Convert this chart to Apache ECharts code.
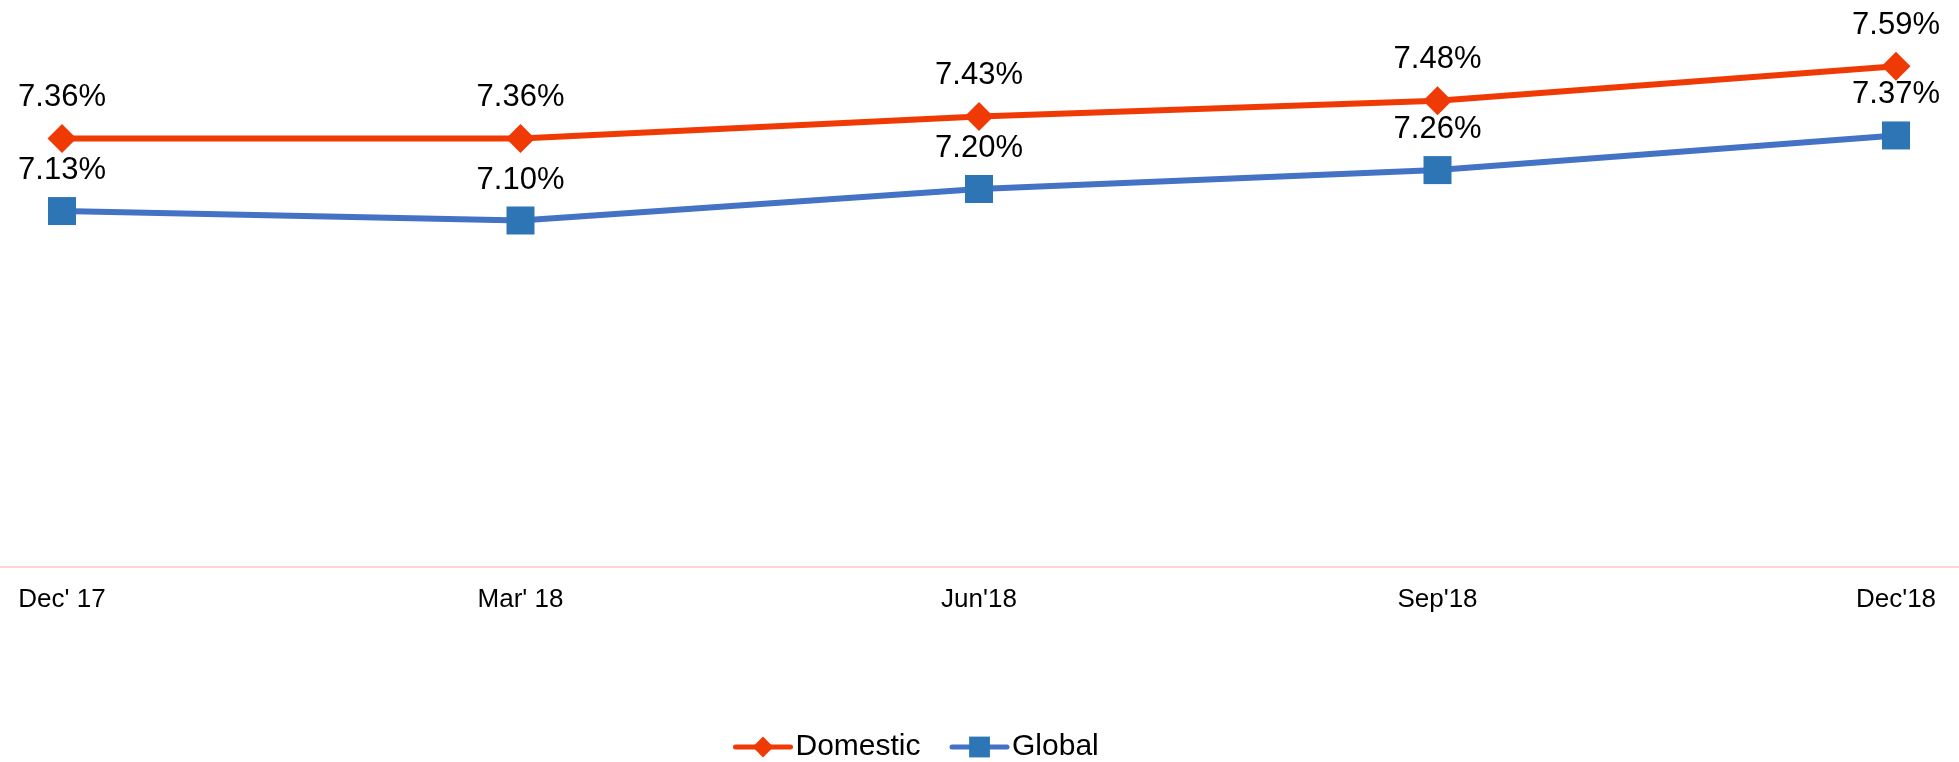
<!DOCTYPE html>
<html>
<head>
    <meta charset="UTF-8">
    <title>Domestic vs Global</title>
    <script src="https://cdn.jsdelivr.net/npm/echarts@6/dist/echarts.min.js"></script>
    <style>
        body {
            margin: 0;
            background-color: #fff;
        }

        #chart {
            width: 1959px;
            height: 762px;
        }
    </style>
</head>
<body>
<div id="chart"></div>

<script>
    // 数据
    var categories = ["Dec' 17", "Mar' 18", "Jun'18", "Sep'18", "Dec'18"];
    var domestic = [7.36, 7.36, 7.43, 7.48, 7.59];
    var global = [7.13, 7.10, 7.20, 7.26, 7.37];

    var font = '"Liberation Sans", Arial, sans-serif';

    function pct(p) {
        return p.value.toFixed(2) + '%';
    }

    var chart = echarts.init(document.getElementById('chart'), null, {renderer: 'canvas'});

    var option = {
        animation: false,
        textStyle: {fontFamily: font},
        grid: [
            {left: 62, right: 63, top: 63, bottom: 195},
            // 只用来画横跨整个宽度的那条浅色轴线
            {left: 0, right: 0, top: 63, bottom: 195}
        ],
        xAxis: [
            {
                type: 'category',
                data: categories,
                boundaryGap: false,
                axisLine: {show: false},
                axisTick: {show: false},
                axisLabel: {color: '#000', fontSize: 26, margin: 20, fontFamily: font}
            },
            {
                type: 'category',
                gridIndex: 1,
                data: categories,
                boundaryGap: false,
                axisLine: {show: true, lineStyle: {color: '#FFC8BE', width: 1.5}},
                axisTick: {show: false},
                axisLabel: {show: false}
            }
        ],
        yAxis: [
            {type: 'value', min: 6, max: 7.6, show: false, splitLine: {show: false}},
            {type: 'value', gridIndex: 1, min: 6, max: 7.6, show: false, splitLine: {show: false}}
        ],
        legend: {
            left: 733,
            top: 732,
            padding: 0,
            itemWidth: 55,
            itemHeight: 26,
            itemGap: 29,
            lineStyle: {width: 5, cap: 'round'},
            textStyle: {color: '#000', fontSize: 30, fontFamily: font},
            data: ['Domestic', 'Global']
        },
        series: [
            {
                name: 'Domestic',
                type: 'line',
                data: domestic,
                symbol: 'diamond',
                symbolSize: 29,
                lineStyle: {color: '#F03A05', width: 6},
                itemStyle: {color: '#F03A05'},
                label: {
                    show: true,
                    position: 'top',
                    distance: 11,
                    color: '#000',
                    fontSize: 31,
                    fontFamily: font,
                    formatter: pct
                }
            },
            {
                name: 'Global',
                type: 'line',
                data: global,
                symbol: 'rect',
                symbolSize: 28,
                lineStyle: {color: '#4472C4', width: 6},
                itemStyle: {color: '#2E75B6'},
                label: {
                    show: true,
                    position: 'top',
                    distance: 11,
                    color: '#000',
                    fontSize: 31,
                    fontFamily: font,
                    formatter: pct
                }
            }
        ]
    };

    chart.setOption(option);
</script>
</body>
</html>
